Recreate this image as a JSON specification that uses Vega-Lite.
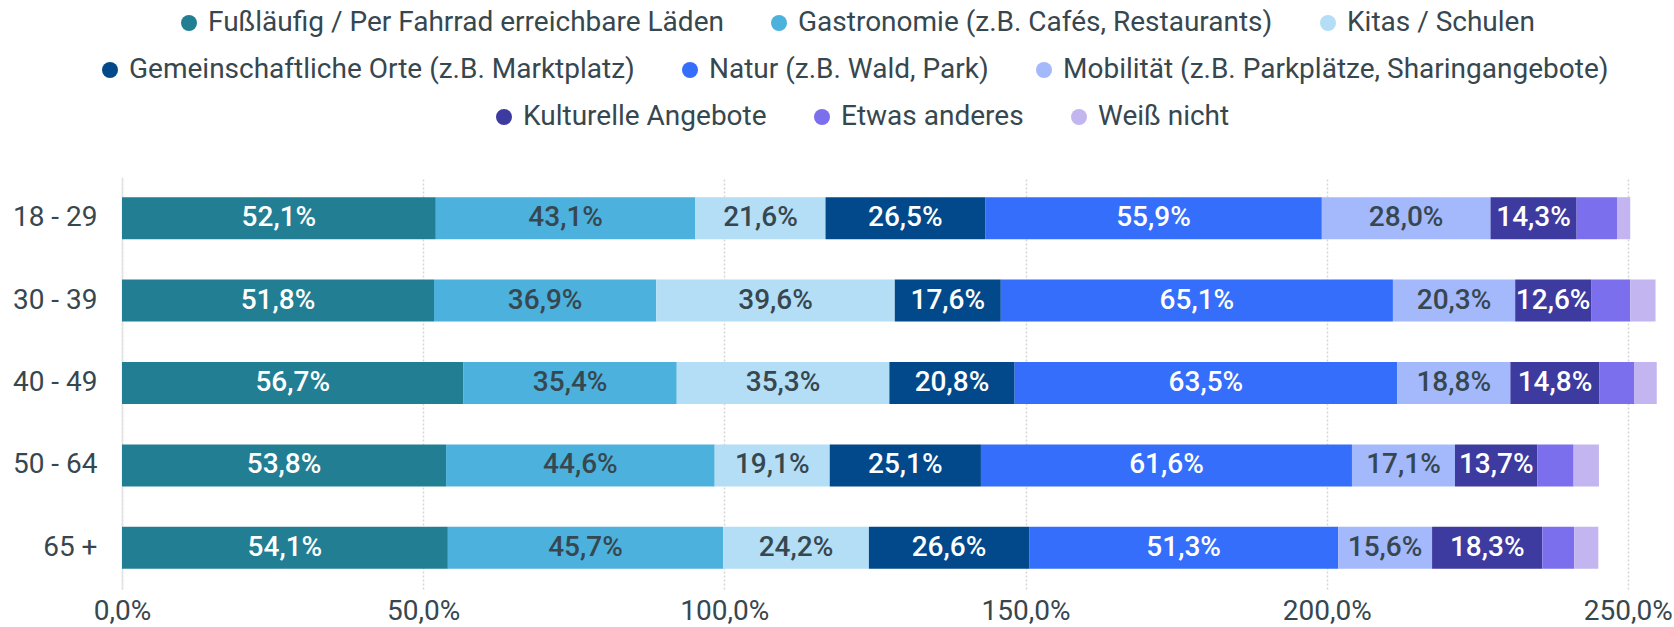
{
  "$schema": "https://vega.github.io/schema/vega-lite/v6.json",
  "width": 1548,
  "height": 412,
  "autosize": {"type": "none"},
  "padding": {"left": 122, "top": 177, "right": 4, "bottom": 38},
  "background": "white",
  "config": {
    "font": "Roboto",
    "view": {"stroke": null},
    "legend": {
      "orient": "none",
      "direction": "horizontal",
      "title": null,
      "symbolType": "circle",
      "symbolSize": 256,
      "symbolStrokeWidth": 0,
      "labelFontSize": 28,
      "labelFont": "Roboto",
      "labelColor": "#37474f",
      "labelOffset": 5,
      "labelLimit": 2000,
      "columnPadding": 41,
      "padding": 0
    }
  },
  "data": {
    "values": [
      {"Alter": "18 - 29", "Nr": 1, "Kategorie": "Fußläufig / Per Fahrrad erreichbare Läden", "Wert": 52.1},
      {"Alter": "18 - 29", "Nr": 2, "Kategorie": "Gastronomie (z.B. Cafés, Restaurants)", "Wert": 43.1},
      {"Alter": "18 - 29", "Nr": 3, "Kategorie": "Kitas / Schulen", "Wert": 21.6},
      {"Alter": "18 - 29", "Nr": 4, "Kategorie": "Gemeinschaftliche Orte (z.B. Marktplatz)", "Wert": 26.5},
      {"Alter": "18 - 29", "Nr": 5, "Kategorie": "Natur (z.B. Wald, Park)", "Wert": 55.9},
      {"Alter": "18 - 29", "Nr": 6, "Kategorie": "Mobilität (z.B. Parkplätze, Sharingangebote)", "Wert": 28.0},
      {"Alter": "18 - 29", "Nr": 7, "Kategorie": "Kulturelle Angebote", "Wert": 14.3},
      {"Alter": "18 - 29", "Nr": 8, "Kategorie": "Etwas anderes", "Wert": 6.7},
      {"Alter": "18 - 29", "Nr": 9, "Kategorie": "Weiß nicht", "Wert": 2.2},
      {"Alter": "30 - 39", "Nr": 1, "Kategorie": "Fußläufig / Per Fahrrad erreichbare Läden", "Wert": 51.8},
      {"Alter": "30 - 39", "Nr": 2, "Kategorie": "Gastronomie (z.B. Cafés, Restaurants)", "Wert": 36.9},
      {"Alter": "30 - 39", "Nr": 3, "Kategorie": "Kitas / Schulen", "Wert": 39.6},
      {"Alter": "30 - 39", "Nr": 4, "Kategorie": "Gemeinschaftliche Orte (z.B. Marktplatz)", "Wert": 17.6},
      {"Alter": "30 - 39", "Nr": 5, "Kategorie": "Natur (z.B. Wald, Park)", "Wert": 65.1},
      {"Alter": "30 - 39", "Nr": 6, "Kategorie": "Mobilität (z.B. Parkplätze, Sharingangebote)", "Wert": 20.3},
      {"Alter": "30 - 39", "Nr": 7, "Kategorie": "Kulturelle Angebote", "Wert": 12.6},
      {"Alter": "30 - 39", "Nr": 8, "Kategorie": "Etwas anderes", "Wert": 6.5},
      {"Alter": "30 - 39", "Nr": 9, "Kategorie": "Weiß nicht", "Wert": 4.2},
      {"Alter": "40 - 49", "Nr": 1, "Kategorie": "Fußläufig / Per Fahrrad erreichbare Läden", "Wert": 56.7},
      {"Alter": "40 - 49", "Nr": 2, "Kategorie": "Gastronomie (z.B. Cafés, Restaurants)", "Wert": 35.4},
      {"Alter": "40 - 49", "Nr": 3, "Kategorie": "Kitas / Schulen", "Wert": 35.3},
      {"Alter": "40 - 49", "Nr": 4, "Kategorie": "Gemeinschaftliche Orte (z.B. Marktplatz)", "Wert": 20.8},
      {"Alter": "40 - 49", "Nr": 5, "Kategorie": "Natur (z.B. Wald, Park)", "Wert": 63.5},
      {"Alter": "40 - 49", "Nr": 6, "Kategorie": "Mobilität (z.B. Parkplätze, Sharingangebote)", "Wert": 18.8},
      {"Alter": "40 - 49", "Nr": 7, "Kategorie": "Kulturelle Angebote", "Wert": 14.8},
      {"Alter": "40 - 49", "Nr": 8, "Kategorie": "Etwas anderes", "Wert": 5.8},
      {"Alter": "40 - 49", "Nr": 9, "Kategorie": "Weiß nicht", "Wert": 3.7},
      {"Alter": "50 - 64", "Nr": 1, "Kategorie": "Fußläufig / Per Fahrrad erreichbare Läden", "Wert": 53.8},
      {"Alter": "50 - 64", "Nr": 2, "Kategorie": "Gastronomie (z.B. Cafés, Restaurants)", "Wert": 44.6},
      {"Alter": "50 - 64", "Nr": 3, "Kategorie": "Kitas / Schulen", "Wert": 19.1},
      {"Alter": "50 - 64", "Nr": 4, "Kategorie": "Gemeinschaftliche Orte (z.B. Marktplatz)", "Wert": 25.1},
      {"Alter": "50 - 64", "Nr": 5, "Kategorie": "Natur (z.B. Wald, Park)", "Wert": 61.6},
      {"Alter": "50 - 64", "Nr": 6, "Kategorie": "Mobilität (z.B. Parkplätze, Sharingangebote)", "Wert": 17.1},
      {"Alter": "50 - 64", "Nr": 7, "Kategorie": "Kulturelle Angebote", "Wert": 13.7},
      {"Alter": "50 - 64", "Nr": 8, "Kategorie": "Etwas anderes", "Wert": 6.0},
      {"Alter": "50 - 64", "Nr": 9, "Kategorie": "Weiß nicht", "Wert": 4.2},
      {"Alter": "65 +", "Nr": 1, "Kategorie": "Fußläufig / Per Fahrrad erreichbare Läden", "Wert": 54.1},
      {"Alter": "65 +", "Nr": 2, "Kategorie": "Gastronomie (z.B. Cafés, Restaurants)", "Wert": 45.7},
      {"Alter": "65 +", "Nr": 3, "Kategorie": "Kitas / Schulen", "Wert": 24.2},
      {"Alter": "65 +", "Nr": 4, "Kategorie": "Gemeinschaftliche Orte (z.B. Marktplatz)", "Wert": 26.6},
      {"Alter": "65 +", "Nr": 5, "Kategorie": "Natur (z.B. Wald, Park)", "Wert": 51.3},
      {"Alter": "65 +", "Nr": 6, "Kategorie": "Mobilität (z.B. Parkplätze, Sharingangebote)", "Wert": 15.6},
      {"Alter": "65 +", "Nr": 7, "Kategorie": "Kulturelle Angebote", "Wert": 18.3},
      {"Alter": "65 +", "Nr": 8, "Kategorie": "Etwas anderes", "Wert": 5.3},
      {"Alter": "65 +", "Nr": 9, "Kategorie": "Weiß nicht", "Wert": 4.0}
    ]
  },
  "transform": [
    {"stack": "Wert", "groupby": ["Alter"], "sort": [{"field": "Nr", "order": "ascending"}], "as": ["x0", "x1"]},
    {"calculate": "(datum.x0 + datum.x1) / 2", "as": "xm"},
    {"calculate": "replace(format(datum.Wert, '.1f'), '.', ',') + '%'", "as": "Beschriftung"}
  ],
  "encoding": {
    "y": {
      "field": "Alter",
      "type": "nominal",
      "sort": ["18 - 29", "30 - 39", "40 - 49", "50 - 64", "65 +"],
      "scale": {"paddingInner": 0.49, "paddingOuter": 0.245},
      "axis": {
        "title": null,
        "ticks": false,
        "grid": false,
        "labelFontSize": 28,
        "labelFont": "Roboto",
        "labelColor": "#37474f",
        "labelPadding": 25,
        "domain": true,
        "domainColor": "#e3e3e3",
        "domainWidth": 1.5
      }
    }
  },
  "layer": [
    {
      "transform": [{"filter": {"field": "Kategorie", "oneOf": ["Fußläufig / Per Fahrrad erreichbare Läden", "Gastronomie (z.B. Cafés, Restaurants)", "Kitas / Schulen"]}}],
      "mark": {"type": "bar"},
      "encoding": {
        "x": {
          "field": "x0",
          "type": "quantitative",
          "scale": {"domain": [0, 257], "nice": false, "zero": true},
          "axis": {
            "title": null,
            "values": [0, 50, 100, 150, 200, 250],
            "labelExpr": "replace(format(datum.value, '.1f'), '.', ',') + '%'",
            "grid": true,
            "gridDash": [2, 2],
            "gridColor": "#d6d6d6",
            "gridWidth": 1.5,
            "domain": false,
            "ticks": false,
            "labelFontSize": 28,
            "labelFont": "Roboto",
            "labelColor": "#37474f",
            "labelPadding": 8,
            "labelFlush": false,
            "labelOverlap": false
          }
        },
        "x2": {"field": "x1"},
        "color": {
          "field": "Kategorie",
          "type": "nominal",
          "scale": {
            "domain": ["Fußläufig / Per Fahrrad erreichbare Läden", "Gastronomie (z.B. Cafés, Restaurants)", "Kitas / Schulen"],
            "range": ["#227e93", "#4cb1dc", "#b3def6"]
          },
          "legend": {"legendX": 53, "legendY": -168}
        }
      }
    },
    {
      "transform": [{"filter": {"field": "Kategorie", "oneOf": ["Gemeinschaftliche Orte (z.B. Marktplatz)", "Natur (z.B. Wald, Park)", "Mobilität (z.B. Parkplätze, Sharingangebote)"]}}],
      "mark": {"type": "bar"},
      "encoding": {
        "x": {"field": "x0", "type": "quantitative"},
        "x2": {"field": "x1"},
        "color": {
          "field": "Kategorie",
          "type": "nominal",
          "scale": {
            "domain": ["Gemeinschaftliche Orte (z.B. Marktplatz)", "Natur (z.B. Wald, Park)", "Mobilität (z.B. Parkplätze, Sharingangebote)"],
            "range": ["#01498b", "#346efb", "#a4b8fc"]
          },
          "legend": {"legendX": -26, "legendY": -121}
        }
      }
    },
    {
      "transform": [{"filter": {"field": "Kategorie", "oneOf": ["Kulturelle Angebote", "Etwas anderes", "Weiß nicht"]}}],
      "mark": {"type": "bar"},
      "encoding": {
        "x": {"field": "x0", "type": "quantitative"},
        "x2": {"field": "x1"},
        "color": {
          "field": "Kategorie",
          "type": "nominal",
          "scale": {
            "domain": ["Kulturelle Angebote", "Etwas anderes", "Weiß nicht"],
            "range": ["#3d3aa0", "#7b6fed", "#c3b5ef"]
          },
          "legend": {"legendX": 368, "legendY": -74}
        }
      }
    },
    {
      "transform": [{"filter": "datum.Nr <= 7"}],
      "mark": {"type": "text", "fontSize": 28, "font": "Roboto", "fontWeight": 500, "align": "center", "baseline": "middle"},
      "encoding": {
        "x": {"field": "xm", "type": "quantitative"},
        "text": {"field": "Beschriftung"},
        "color": {
          "condition": {"test": "datum.Nr == 2 || datum.Nr == 3 || datum.Nr == 6", "value": "#37474f"},
          "value": "#ffffff"
        }
      }
    }
  ],
  "resolve": {"scale": {"color": "independent"}, "legend": {"color": "independent"}}
}
